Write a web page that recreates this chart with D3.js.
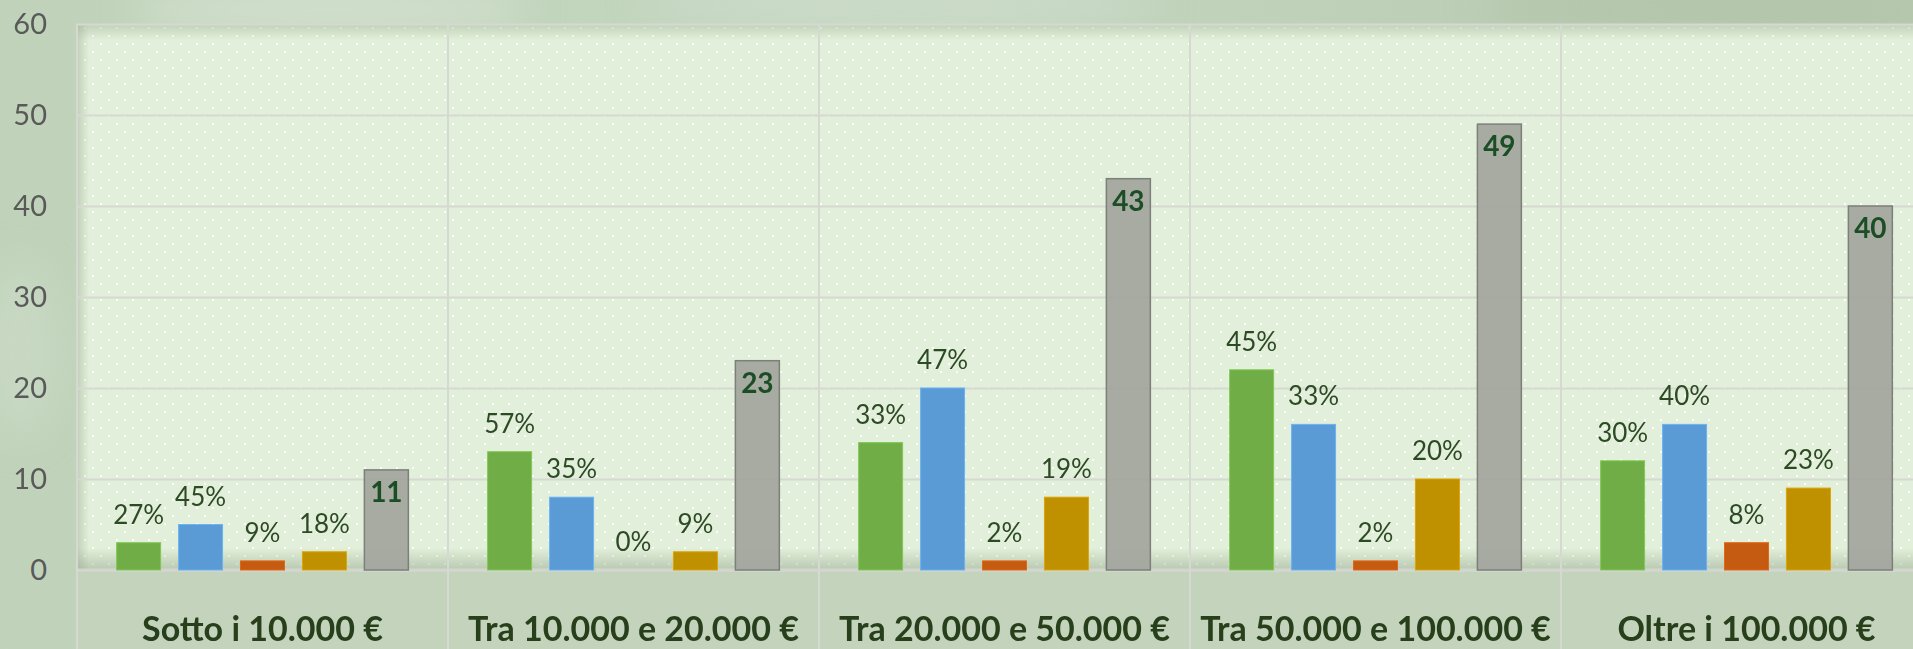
<!DOCTYPE html>
<html>
<head>
<meta charset="utf-8">
<script src="https://cdn.jsdelivr.net/npm/d3@7"></script>
<style>
  html, body { margin: 0; padding: 0; background: #bfd2b9; overflow: hidden; }
  svg { display: block; font-family: Lato, "Noto Sans", sans-serif; }
</style>
</head>
<body>
<svg></svg>
<script>
// chart data
const categories = ["Sotto i 10.000 €", "Tra 10.000 e 20.000 €", "Tra 20.000 e 50.000 €", "Tra 50.000 e 100.000 €", "Oltre i 100.000 €"];
const seriesNames = ["Serie 1", "Serie 2", "Serie 3", "Serie 4", "Totale"];
const serie1 = [3, 13, 14, 22, 12];
const serie2 = [5, 8, 20, 16, 16];
const serie3 = [1, 0, 1, 1, 3];
const serie4 = [2, 2, 8, 10, 9];
const totale = [11, 23, 43, 49, 40];
const pct1 = ["27%", "57%", "33%", "45%", "30%"];
const pct2 = ["45%", "35%", "47%", "33%", "40%"];
const pct3 = ["9%", "0%", "2%", "2%", "8%"];
const pct4 = ["18%", "9%", "19%", "20%", "23%"];
const yTicks = [0, 10, 20, 30, 40, 50, 60];

const colors = ["#70ad47", "#5b9bd5", "#c55a11", "#bf9000", "#a3a69f"];

// w and h of the svg
const w = 1913;
const h = 649;
const margin = { top: 24, left: 77 };
const catW = 371;
const plotW = catW * categories.length;
const baseY = 570;
const plotH = baseY - margin.top;

const svg = d3.select("svg").attr("width", w).attr("height", h);
const defs = svg.append("defs");

// dotted pattern for the plot area
const pat = defs.append("pattern")
  .attr("id", "dots")
  .attr("width", 16).attr("height", 16)
  .attr("patternUnits", "userSpaceOnUse")
  .attr("x", margin.left + 7).attr("y", margin.top + 3);
pat.append("rect").attr("width", 16).attr("height", 16).attr("fill", "#e2efda");
pat.append("rect").attr("x", 0).attr("y", 0).attr("width", 2).attr("height", 2).attr("fill", "#fbfdf9");
pat.append("rect").attr("x", 8).attr("y", 8).attr("width", 2).attr("height", 2).attr("fill", "#fbfdf9");

// soft blur for the background picture
defs.append("filter").attr("id", "blur")
  .attr("x", "-50%").attr("y", "-50%").attr("width", "200%").attr("height", "200%")
  .append("feGaussianBlur").attr("stdDeviation", 18);

function vGrad(id, stops) {
  const g = defs.append("linearGradient").attr("id", id)
    .attr("x1", 0).attr("y1", 0).attr("x2", 0).attr("y2", 1);
  stops.forEach(s => g.append("stop").attr("offset", s[0]).attr("stop-color", s[1]).attr("stop-opacity", s[2]));
}
function hGrad(id, stops) {
  const g = defs.append("linearGradient").attr("id", id)
    .attr("x1", 0).attr("y1", 0).attr("x2", 1).attr("y2", 0);
  stops.forEach(s => g.append("stop").attr("offset", s[0]).attr("stop-color", s[1]).attr("stop-opacity", s[2]));
}
vGrad("shTop", [[0, "#8fa487", 0.4], [1, "#8fa487", 0]]);
vGrad("shBot", [[0, "#8fa487", 0], [1, "#8fa487", 0.5]]);
hGrad("shLeft", [[0, "#8fa487", 0.4], [1, "#8fa487", 0]]);
hGrad("bgGrad", [[0, "#c0d3ba", 1], [0.5, "#c3d6bf", 1], [1, "#b7c8ae", 1]]);

// background with faint leaf shapes
svg.append("rect").attr("width", w).attr("height", h).attr("fill", "url(#bgGrad)");
const leaves = svg.append("g").attr("filter", "url(#blur)");
leaves.append("ellipse").attr("cx", 330).attr("cy", 10).attr("rx", 200).attr("ry", 30).attr("fill", "#d3e0ce").attr("opacity", 0.8);
leaves.append("ellipse").attr("cx", 900).attr("cy", 5).attr("rx", 260).attr("ry", 25).attr("fill", "#cfddcc").attr("opacity", 0.7);
leaves.append("ellipse").attr("cx", 1700).attr("cy", 8).attr("rx", 220).attr("ry", 25).attr("fill", "#b2c4a9").attr("opacity", 0.8);
leaves.append("ellipse").attr("cx", 20).attr("cy", 350).attr("rx", 40).attr("ry", 90).attr("fill", "#cbdac6").attr("opacity", 0.7);

// category axis area
svg.append("rect")
  .attr("x", margin.left).attr("y", baseY)
  .attr("width", w - margin.left).attr("height", h - baseY)
  .attr("fill", "#c4d4bc");

const chart = svg.append("g");

// scales
const yScale = d3.scaleLinear().domain([0, 60]).range([baseY, margin.top]);
const x0 = d3.scaleBand().domain(categories).range([margin.left, margin.left + plotW]);
const x1 = d3.scaleBand().domain(seriesNames).range([0, x0.bandwidth()])
  .paddingInner(0.29).paddingOuter(0.64);

// plot area
chart.append("rect")
  .attr("x", margin.left).attr("y", margin.top)
  .attr("width", plotW).attr("height", plotH)
  .attr("fill", "url(#dots)");
chart.append("rect").attr("x", margin.left).attr("y", margin.top).attr("width", plotW).attr("height", 16).attr("fill", "url(#shTop)");
chart.append("rect").attr("x", margin.left).attr("y", baseY - 22).attr("width", plotW).attr("height", 22).attr("fill", "url(#shBot)");
chart.append("rect").attr("x", margin.left).attr("y", margin.top).attr("width", 12).attr("height", plotH).attr("fill", "url(#shLeft)");

// horizontal grid lines
chart.append("g")
  .attr("class", "grid")
  .attr("transform", `translate(${margin.left}, 0)`)
  .call(d3.axisLeft(yScale).tickValues(yTicks).tickSize(-plotW).tickFormat(""))
  .call(g => g.select(".domain").remove())
  .call(g => g.selectAll("line").attr("stroke", "#d6d9d2").attr("stroke-width", 2));

// baseline a bit heavier
chart.append("line")
  .attr("x1", margin.left).attr("x2", margin.left + plotW)
  .attr("y1", yScale(0)).attr("y2", yScale(0))
  .attr("stroke", "#d3d6cf").attr("stroke-width", 3);

// vertical category separators, reaching into the label area
const seps = categories.map(c => x0(c)).concat([margin.left + plotW]);
chart.selectAll(".sep")
  .data(seps)
  .enter()
  .append("line")
  .attr("x1", d => d).attr("x2", d => d)
  .attr("y1", margin.top).attr("y2", h)
  .attr("stroke", "#d6d9d2").attr("stroke-width", 2);

// y axis labels
svg.append("g")
  .attr("transform", `translate(47, 0)`)
  .call(d3.axisLeft(yScale).tickValues(yTicks).tickSize(0).tickPadding(0))
  .call(g => g.select(".domain").remove())
  .call(g => g.selectAll("text")
    .attr("font-family", "Lato, sans-serif")
    .attr("font-size", 29)
    .attr("fill", "#595959"));

// build rows from the arrays
const values = [serie1, serie2, serie3, serie4, totale];
const pcts = [pct1, pct2, pct3, pct4, null];
const rows = [];
categories.forEach((c, i) => {
  seriesNames.forEach((s, j) => {
    rows.push({ cat: c, ser: s, idx: j, v: values[j][i], label: pcts[j] ? pcts[j][i] : String(values[j][i]) });
  });
});

// bars
chart.selectAll(".bar")
  .data(rows)
  .enter()
  .append("rect")
  .attr("x", d => x0(d.cat) + x1(d.ser))
  .attr("y", d => yScale(d.v))
  .attr("width", x1.bandwidth())
  .attr("height", d => yScale(0) - yScale(d.v))
  .attr("fill", d => colors[d.idx])
  .attr("fill-opacity", d => d.idx === 4 ? 0.95 : 1)
  .attr("stroke", d => d.idx === 4 ? "#7d7f7a" : d3.color(colors[d.idx]).brighter(0.4))
  .attr("stroke-width", d => d.idx === 4 ? 1.5 : 1);

// percent labels above the coloured bars
chart.selectAll(".pct")
  .data(rows.filter(d => d.idx < 4))
  .enter()
  .append("text")
  .attr("x", d => x0(d.cat) + x1(d.ser) + x1.bandwidth() / 2)
  .attr("y", d => yScale(d.v) - 19)
  .attr("text-anchor", "middle")
  .attr("font-size", 26)
  .attr("fill", "#2c4a24")
  .text(d => d.label);

// totals inside the grey bars
chart.selectAll(".tot")
  .data(rows.filter(d => d.idx === 4))
  .enter()
  .append("text")
  .attr("x", d => x0(d.cat) + x1(d.ser) + x1.bandwidth() / 2)
  .attr("y", d => yScale(d.v) + 32)
  .attr("text-anchor", "middle")
  .attr("font-size", 28)
  .attr("font-weight", "bold")
  .attr("fill", "#1c4e26")
  .text(d => d.label);

// category labels
chart.selectAll(".cat")
  .data(categories)
  .enter()
  .append("text")
  .attr("x", d => x0(d) + x0.bandwidth() / 2)
  .attr("y", 641)
  .attr("text-anchor", "middle")
  .attr("font-size", 34)
  .attr("font-weight", "bold")
  .attr("fill", "#283f1c")
  .text(d => d);
</script>
</body>
</html>
